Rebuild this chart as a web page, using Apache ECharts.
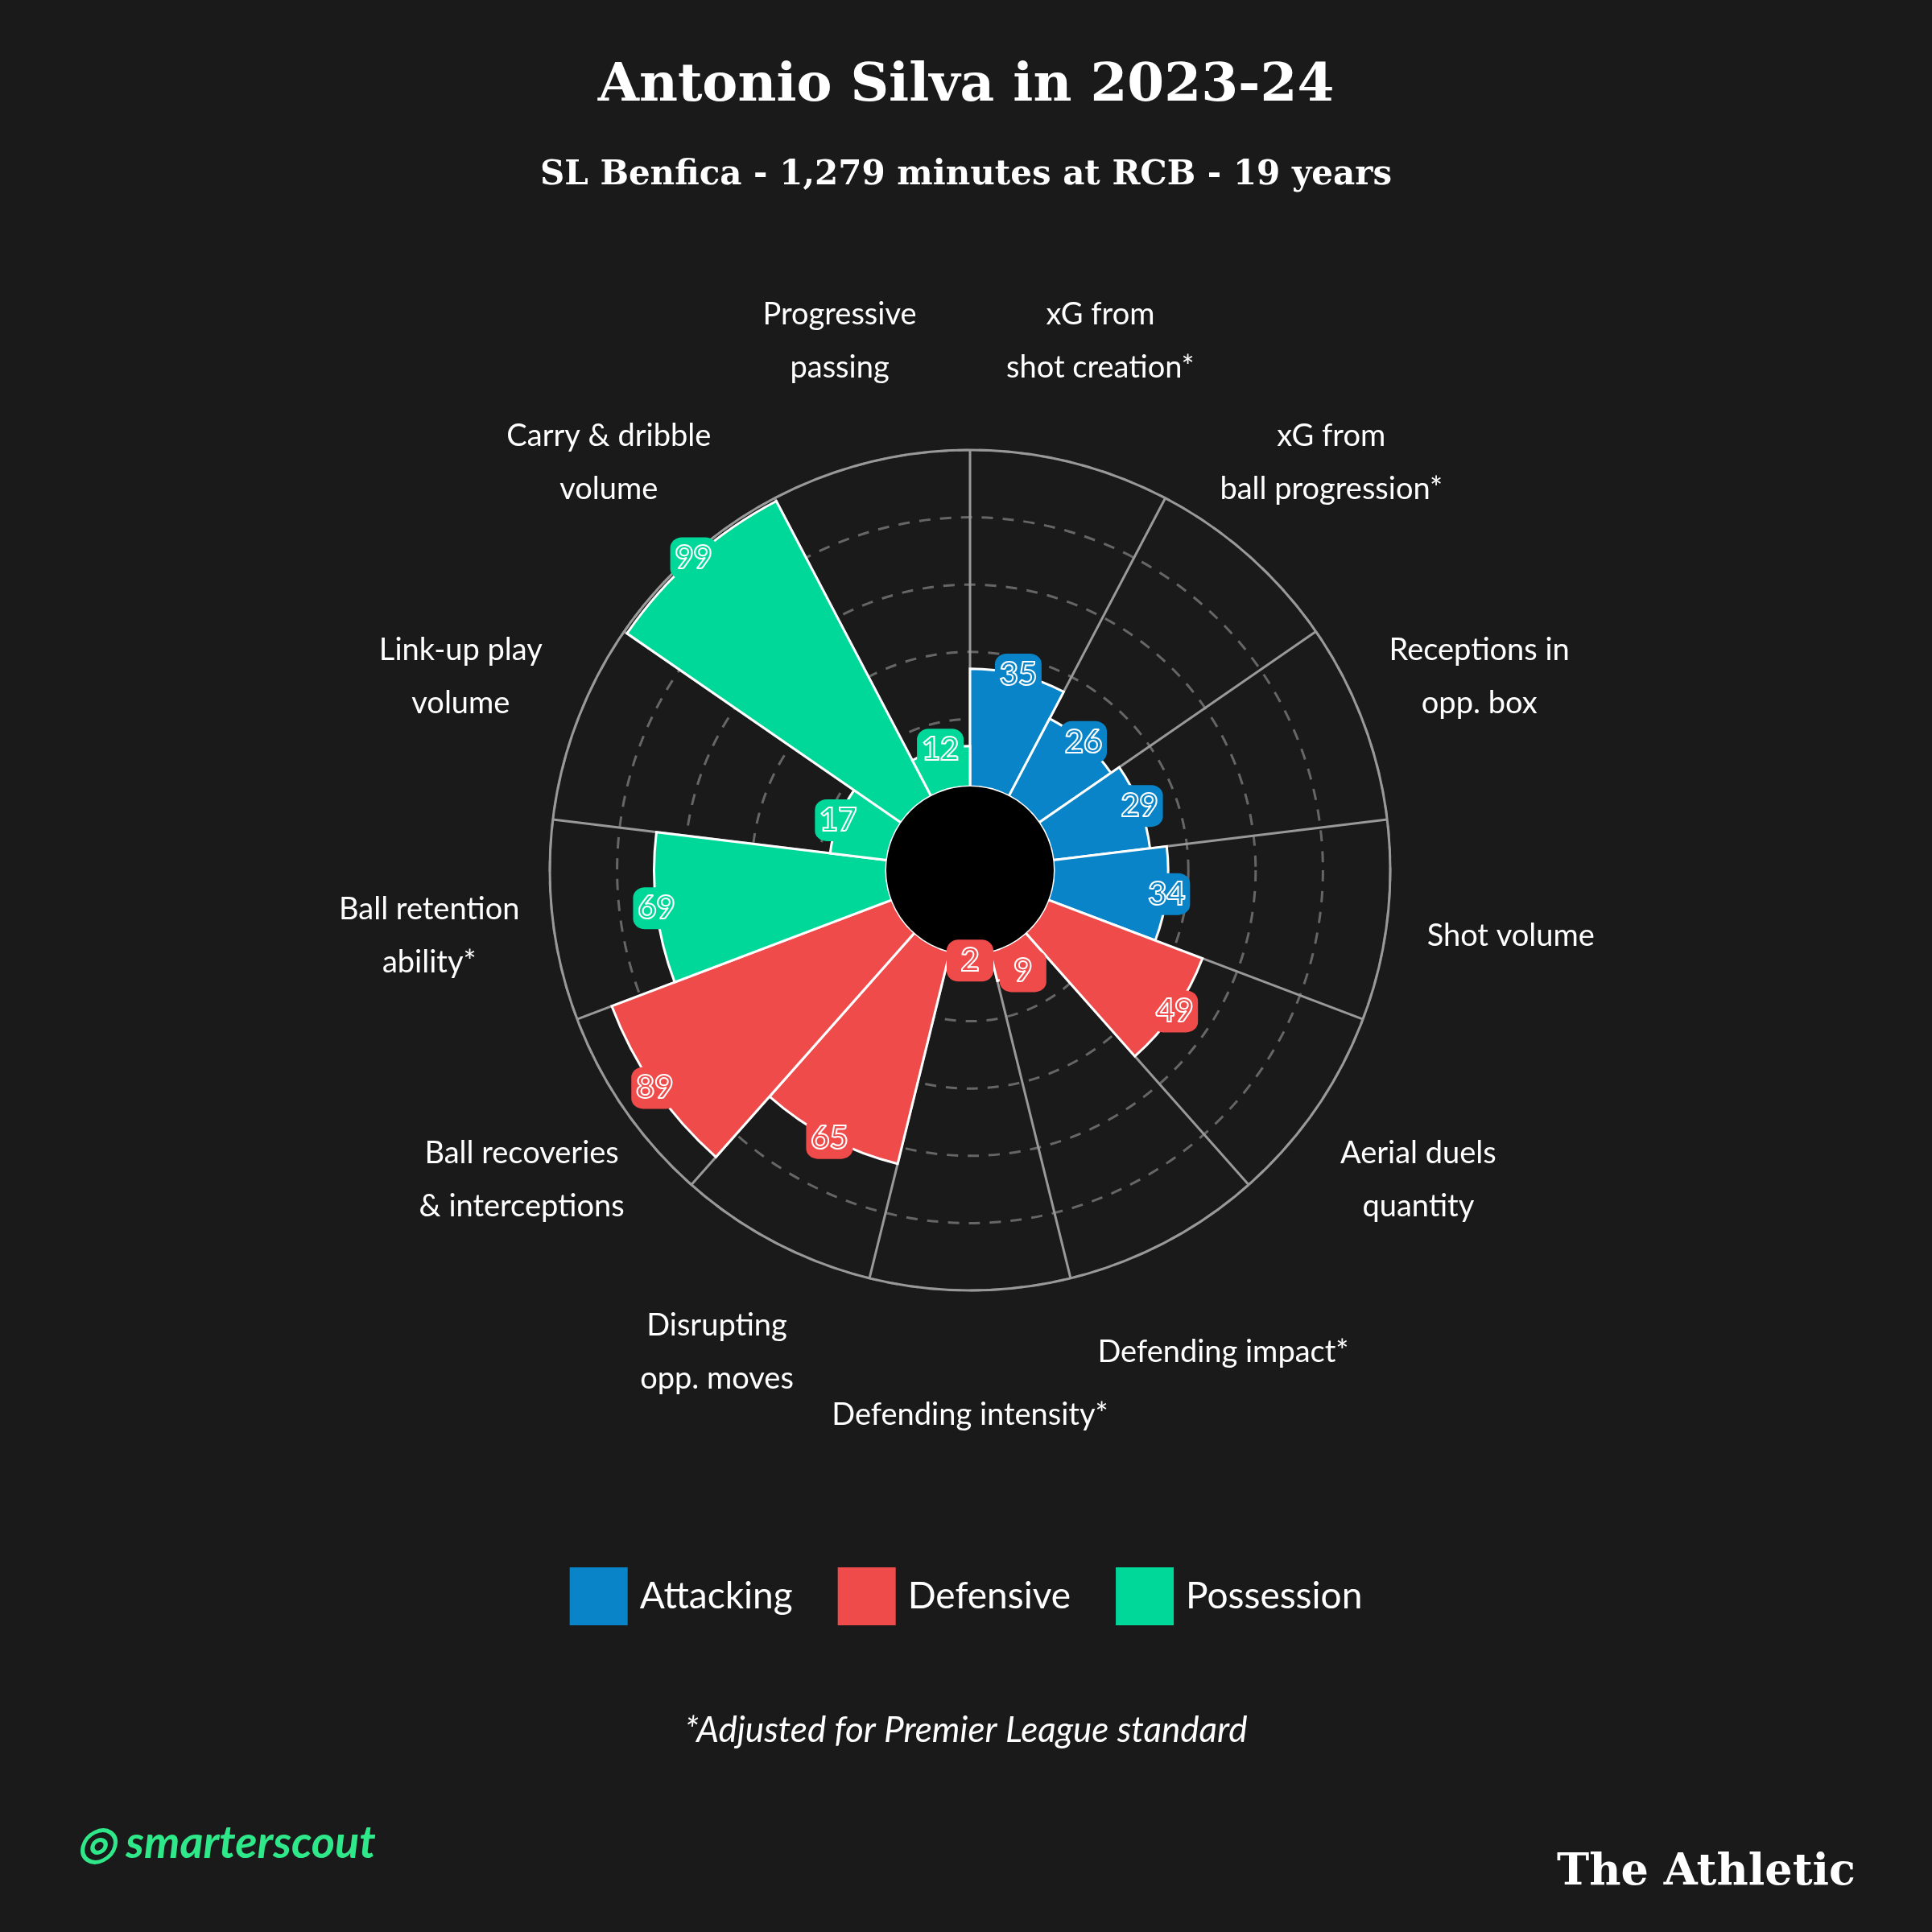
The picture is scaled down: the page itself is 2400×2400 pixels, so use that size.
<!DOCTYPE html><html><head><meta charset="utf-8"><script src="https://cdn.jsdelivr.net/npm/echarts@6/dist/echarts.min.js"></script>
<style>html,body{margin:0;background:#1a1a1a}#c{width:2400px;height:2400px}</style></head><body><div id="c"></div><script>
const categories=["xG from\nshot creation*","xG from\nball progression*","Receptions in\nopp. box","Shot volume","Aerial duels\nquantity","Defending impact*","Defending intensity*","Disrupting\nopp. moves","Ball recoveries\n& interceptions","Ball retention\nability*","Link-up play\nvolume","Carry & dribble\nvolume","Progressive\npassing"];
const values=[35,26,29,34,49,9,2,65,89,69,17,99,12];
const groups=["Attacking","Attacking","Attacking","Attacking","Defensive","Defensive","Defensive","Defensive","Defensive","Possession","Possession","Possession","Possession"];
const groupNames=["Attacking","Defensive","Possession"];
const colors={Attacking:"#0a84c8",Defensive:"#f04b4b",Possession:"#00d89a"};
const labelRadius=137;
const ch=echarts.init(document.getElementById('c'));
const series=groupNames.map(g=>({name:g,type:'bar',coordinateSystem:'polar',polarIndex:0,barCategoryGap:0,barGap:'-100%',
 data:values.map((v,i)=>groups[i]===g?v:null),
 itemStyle:{color:colors[g],borderColor:'#fff',borderWidth:3}}));
series.push({type:'scatter',coordinateSystem:'polar',polarIndex:0,symbol:'roundRect',symbolSize:[58,52],z:10,
 data:values.map((v,i)=>({value:[v,i],itemStyle:{color:colors[groups[i]],opacity:1}})),
 label:{show:true,position:'inside',formatter:p=>p.value[0],fontFamily:'Lato',fontSize:40,fontWeight:'bold',color:'rgba(0,0,0,0)',textBorderColor:'#fff',textBorderWidth:2}});
series.push({type:'scatter',coordinateSystem:'polar',polarIndex:1,symbolSize:2,silent:true,itemStyle:{color:'rgba(0,0,0,0)',opacity:1},
 data:categories.map((c,i)=>({value:[labelRadius,i],name:c})),
 label:{show:true,opacity:1,position:'inside',formatter:p=>p.name,color:'#ffffff',fontSize:38,fontFamily:'Lato',lineHeight:66,align:'center',verticalAlign:'middle'}});
ch.setOption({backgroundColor:'#1a1a1a',animation:false,
 title:[{text:'Antonio Silva in 2023-24',left:'center',top:70,textStyle:{color:'#fff',fontFamily:'DejaVu Serif',fontWeight:'bold',fontSize:66}},
  {text:'SL Benfica - 1,279 minutes at RCB - 19 years',left:'center',top:192,textStyle:{color:'#fff',fontFamily:'DejaVu Serif',fontWeight:'bold',fontSize:42}}],
 legend:{bottom:376,left:'center',itemWidth:72,itemHeight:72,itemGap:56,icon:'rect',itemStyle:{borderWidth:0},textStyle:{color:'#fff',fontSize:46,fontFamily:'Lato',padding:[0,0,0,10]},data:groupNames},
 polar:[{center:[1205,1081],radius:[104,522]},{center:[1205,1081],radius:[104,689.2]}],
 angleAxis:[{polarIndex:0,type:'category',data:categories,startAngle:90,boundaryGap:true,
  axisLine:{show:true,lineStyle:{color:'#999',width:3}},axisTick:{show:false},
  splitLine:{show:true,interval:0,lineStyle:{color:'#999',width:3}},
  axisLabel:{show:false}},
  {polarIndex:1,type:'category',data:categories,startAngle:90,boundaryGap:true,axisLine:{show:false},axisTick:{show:false},splitLine:{show:false},axisLabel:{show:false}}],
 radiusAxis:[{polarIndex:0,min:0,max:100,interval:20,axisLine:{show:false},axisTick:{show:false},axisLabel:{show:false},
  splitLine:{show:true,lineStyle:{color:'#666',width:3,type:[14,12]}}},
  {polarIndex:1,min:0,max:140,interval:20,axisLine:{show:false},axisTick:{show:false},axisLabel:{show:false},splitLine:{show:false}}],
 series:series,
 graphic:[{type:'circle',shape:{cx:1205,cy:1081,r:104},style:{fill:'#000'},z:5},
  {type:'text',left:'center',top:2128,style:{text:'*Adjusted for Premier League standard',fill:'#fff',fontSize:44,fontStyle:'italic',fontFamily:'Lato'}},
  {type:'text',left:95,top:2262,style:{text:'\u25CE smarterscout',fill:'#2ee88a',fontSize:56,fontWeight:'bold',fontStyle:'italic',fontFamily:'Lato'}},
  {type:'text',right:95,top:2300,style:{text:'The Athletic',fill:'#fff',fontSize:54,fontWeight:'bold',fontFamily:'DejaVu Serif'}}]
});
</script></body></html>
